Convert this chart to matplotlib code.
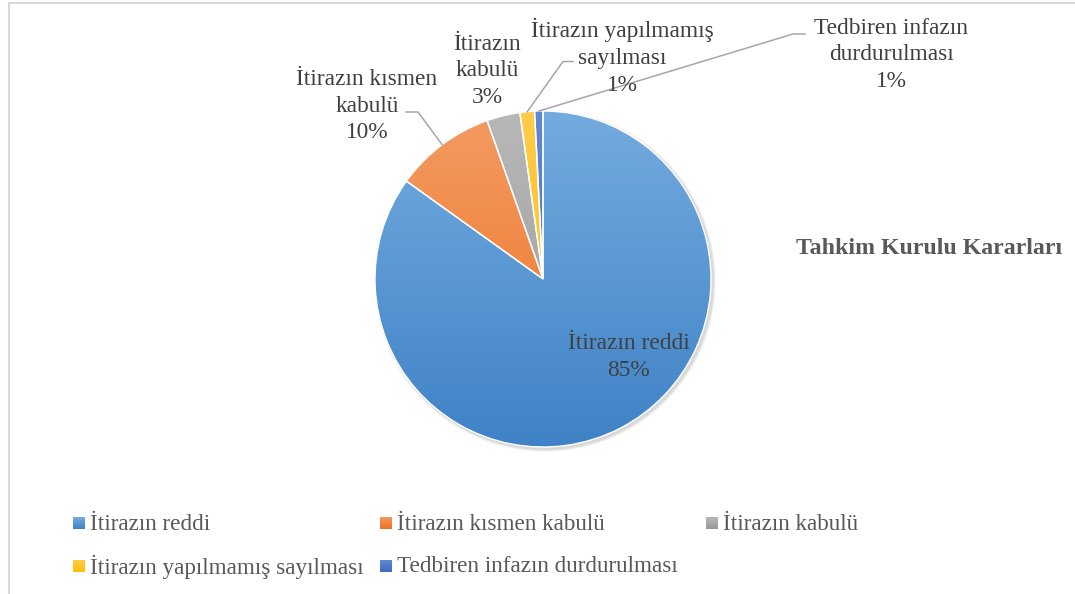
import numpy as np
import matplotlib.pyplot as plt
from matplotlib.colors import LinearSegmentedColormap
from matplotlib.patches import Circle

# -----------------------------------------------------
#   DATA
# -----------------------------------------------------
categories = [
    "İtirazın reddi",
    "İtirazın kısmen kabulü",
    "İtirazın kabulü",
    "İtirazın yapılmamış sayılması",
    "Tedbiren infazın durdurulması",
]
label_text = [
    "İtirazın reddi",
    "İtirazın kısmen\nkabulü",
    "İtirazın\nkabulü",
    "İtirazın yapılmamış\nsayılması",
    "Tedbiren infazın\ndurdurulması",
]
shares = [84.9, 9.7, 3.2, 1.4, 0.8]
title = "Tahkim Kurulu Kararları"

# gradient colours (top -> bottom)
grad_colors = [
    ("#74abdf", "#3f82c7"),
    ("#f39b63", "#ee7020"),
    ("#b8b8b8", "#989898"),
    ("#ffcb4a", "#ffbf00"),
    ("#6188d2", "#3f6cbf"),
]

# -----------------------------------------------------
#   LAYOUT (pixel coordinates, y down)
# -----------------------------------------------------
W, H = 1075, 594
cx, cy, r = 543, 279, 168
label_xy = [(629, 357), (367, 106), (487, 71), (622, 57), (891, 55)]
# leader line: start at label, bend point; None = no leader
leaders = [None, ((406, 112), (418, 112)), None,
           ((573, 61.5), (563, 61.5)), ((805, 34), (793, 34))]
legend_pos = [(73, 523), (380, 523), (706, 523), (73, 566), (380, 566)]

LABEL_C = "#404040"
LEGEND_C = "#595959"
plt.rcParams["font.family"] = ["Liberation Serif", "DejaVu Serif"]

fig = plt.figure(figsize=(W / 100, H / 100), dpi=100)
ax = fig.add_axes([0, 0, 1, 1])

# soft shadow behind the pie
for k, a in [(6, 0.03), (4, 0.05), (2, 0.07)]:
    ax.add_patch(Circle((cx + 2, cy + 2), r + k * 0.5, color="black",
                        alpha=a, lw=0, zorder=0))

# y axis is inverted, so counterclock=True turns visually clockwise
wedges, _ = ax.pie(shares, center=(cx, cy), radius=r, startangle=-90,
                   counterclock=True, frame=True,
                   wedgeprops=dict(edgecolor="white", linewidth=1.0))

grad = np.linspace(0, 1, 256).reshape(-1, 1)
for w, (c0, c1) in zip(wedges, grad_colors):
    cmap = LinearSegmentedColormap.from_list("g", [c0, c1])
    im = ax.imshow(grad, cmap=cmap, extent=(cx - r, cx + r, cy + r, cy - r),
                   origin="upper", aspect="auto", zorder=0.5)
    im.set_clip_path(w)
    w.set_facecolor("none")
    w.set_zorder(1)

# data labels
for i, (w, txt) in enumerate(zip(wedges, label_text)):
    pct = f"{round(shares[i] / sum(shares) * 100):.0f}%"
    x, y = label_xy[i]
    ax.text(x, y, f"{txt}\n{pct}", ha="center", va="center",
            fontsize=16.8, color=LABEL_C, linespacing=1.37, zorder=3)
    if leaders[i] is not None:
        theta = np.deg2rad((w.theta1 + w.theta2) / 2)
        ex, ey = cx + r * np.cos(theta), cy + r * np.sin(theta)
        (sx, sy), (bx, by) = leaders[i]
        ax.plot([sx, bx, ex], [sy, by, ey], color="#a6a6a6", lw=1.1, zorder=2)

ax.text(929, 248, title, ha="center", va="center", fontsize=17.2,
        fontweight="bold", color=LEGEND_C)

# legend
for (x, y), name, c0c1 in zip(legend_pos, categories, grad_colors):
    cmap = LinearSegmentedColormap.from_list("g", list(c0c1))
    ax.imshow(grad, cmap=cmap, extent=(x, x + 12, y + 6, y - 6),
              origin="upper", aspect="auto", zorder=2)
    ax.text(x + 17, y + 1, name, ha="left", va="center", fontsize=16.7,
            color=LEGEND_C)

# chart frame (only top and left edges visible in the crop)
ax.plot([8.5, W], [2.5, 2.5], color="#d9d9d9", lw=1.5)
ax.plot([8.5, 8.5], [2.5, H], color="#d9d9d9", lw=1.5)

ax.set_xlim(0, W)
ax.set_ylim(H, 0)
ax.axis("off")

fig.savefig("out.png", dpi=100)
